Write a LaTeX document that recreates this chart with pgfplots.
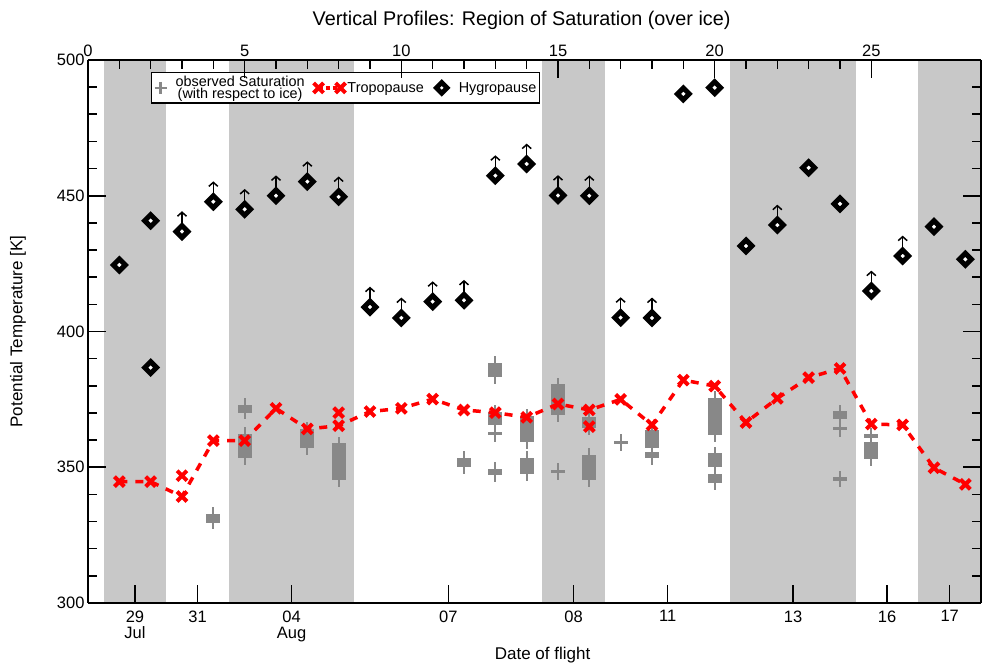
\documentclass[border=0pt]{standalone}
\usepackage{fontspec}
\setmainfont{Liberation Sans}
\usepackage{pgfplots}
\usepackage{pgfplotstable}
\pgfplotsset{compat=1.18}
\usetikzlibrary{arrows.meta}
\definecolor{bandgray}{RGB}{200,200,200}
\definecolor{satgray}{RGB}{136,136,136}
\pgfplotsset{
  troplegend/.style={legend image code/.code={\draw[##1, mark repeat=1] plot coordinates {(0pt,0pt) (22pt,0pt)};}},
  satlegend/.style={legend image code/.code={\draw[##1] plot coordinates {(8pt,0pt)}; \path[draw=none] (0pt,0pt) -- (21pt,0pt);}},
  hyglegend/.style={legend image code/.code={\path[draw=none] (0pt,0pt) -- (24pt,0pt); \draw[##1] plot coordinates {(9pt,0pt)};}},
}

% observed saturation ranges (x, lower, upper) in K
\pgfplotstableread{
x lo hi
4 329.6 332.8
5 353.5 362.3
5 370.1 372.9
7 357.0 364.0
8 345.4 358.8
12 350.0 353.5
13 383.1 388.3
13 365.5 370.5
13 361.9 363.1
13 347.1 349.4
14 359.4 368.8
14 347.6 353.4
15 369.3 380.5
15 347.8 349.0
16 345.3 354.5
16 364.5 368.6
17 358.6 359.8
18 357.0 363.8
18 353.5 355.7
20 361.9 375.4
20 350.1 355.1
20 344.1 347.5
24 367.7 370.6
24 363.6 364.8
24 345.1 346.3
25 360.7 362.1
25 352.9 359.4
}\sat

% tropopause (connected)
\pgfplotstableread{
x y
1 344.7
2 344.7
3 339.2
4 359.8
5 359.8
6 371.7
7 364.1
8 365.3
9 370.5
10 371.7
11 375.1
12 371.1
13 370.1
14 368.4
15 373.3
16 371.1
17 375.0
18 365.6
19 382.1
20 379.9
21 366.5
22 375.4
23 383.0
24 386.4
25 365.9
26 365.6
27 349.8
28 343.7
}\trop

% additional tropopause determinations
\pgfplotstableread{
x y
3 346.9
8 370.1
16 365.0
}\tropx

% hygropause
\pgfplotstableread{
x y
1 424.5
2 440.8
2 386.7
3 436.8
4 447.8
5 445.0
6 450.0
7 455.2
8 449.6
9 409.0
10 405.0
11 411.0
12 411.5
13 457.4
14 461.7
15 450.1
16 450.0
17 405.1
18 405.0
19 487.5
20 489.8
21 431.5
22 439.2
23 460.3
24 447.0
25 414.9
26 427.8
27 438.6
28 426.6
}\hyg

% hygropause values that are lower limits (arrow)
\pgfplotstableread{
x y
3 436.8
4 447.8
5 445.0
6 450.0
7 455.2
8 449.6
9 409.0
10 405.0
11 411.0
12 411.5
13 457.4
14 461.7
15 450.1
16 450.0
17 405.1
18 405.0
22 439.2
25 414.9
26 427.8
}\hygarrow

\begin{document}
\begin{tikzpicture}
\useasboundingbox (-88pt,-63pt) rectangle (905pt,603pt);
\begin{axis}[
  at={(0pt,0pt)}, anchor=south west,
  scale only axis, width=893pt, height=543pt,
  xmin=0, xmax=28.5, ymin=300, ymax=500,
  axis on top,
  axis x line*=bottom,
  axis line style={line width=1.6pt},
  every tick/.style={black, line width=1.6pt},
  tick align=inside,
  major tick length=18pt, minor tick length=9pt,
  xtick={1.5,3.5,6.5,11.5,15.5,18.5,22.5,25.5,27.5},
  xticklabels={{29\\Jul},31,{04\\Aug},07,08,11,13,16,17},
  ytick={300,350,...,500}, minor y tick num=4,
  /pgf/number format/assume math mode=true,
  tick label style={font=\fontsize{16.5}{16}\selectfont},
  xticklabel style={align=center, yshift=-4pt},
  every axis x label/.style={at={(axis description cs:0.509,-0.0958)}, anchor=center},
  every axis y label/.style={at={(axis description cs:-0.0784,0.5)}, rotate=90, anchor=center},
  label style={font=\fontsize{17}{17}\selectfont},
  xlabel={Date of flight},
  ylabel={Potential Temperature [K]},
  legend style={at={(rel axis cs:0.0705,0.978)}, anchor=north west,
    draw=black, line width=1.5pt, font=\fontsize{14.4}{12.5}\selectfont,
    inner sep=1pt, row sep=0pt,
    /tikz/every even column/.append style={column sep=7pt}},
  legend columns=3,
  legend cell align=left,
]
% day/night bands
\addplot[fill=bandgray, draw=none, forget plot] coordinates {(0.5,300)(0.5,500)(2.5,500)(2.5,300)} --cycle;
\addplot[fill=bandgray, draw=none, forget plot] coordinates {(4.5,300)(4.5,500)(8.5,500)(8.5,300)} --cycle;
\addplot[fill=bandgray, draw=none, forget plot] coordinates {(14.5,300)(14.5,500)(16.5,500)(16.5,300)} --cycle;
\addplot[fill=bandgray, draw=none, forget plot] coordinates {(20.5,300)(20.5,500)(24.5,500)(24.5,300)} --cycle;
\addplot[fill=bandgray, draw=none, forget plot] coordinates {(26.5,300)(26.5,500)(28.5,500)(28.5,300)} --cycle;

% observed saturation: thin vertical strokes
\addplot[draw=none, no markers, forget plot,
  error bars/.cd, y dir=both, y explicit, error mark=none,
  error bar style={draw=satgray, line width=2pt}]
  table[x=x, y expr={(\thisrow{lo}+\thisrow{hi})/2}, y error expr={(\thisrow{hi}-\thisrow{lo})/2+2.5}] {\sat};
% observed saturation: filled blocks
\addplot[draw=none, no markers, forget plot,
  error bars/.cd, y dir=both, y explicit, error mark=none,
  error bar style={draw=satgray, line width=14pt}]
  table[x=x, y expr={(\thisrow{lo}+\thisrow{hi})/2}, y error expr={(\thisrow{hi}-\thisrow{lo})/2}] {\sat};

% tropopause
\addplot[red, line width=3.5pt, dash pattern=on 8pt off 8pt, mark=x, mark size=7pt,
  mark options={solid, line width=4pt}, forget plot] table[x=x,y=y] {\trop};
\addplot[red, only marks, mark=x, mark size=7pt, mark options={solid, line width=4pt}, forget plot]
  table[x=x,y=y] {\tropx};

% hygropause arrows and diamonds
\addplot[black, line width=1.5pt, forget plot, -{Straight Barb[length=4pt,width=9pt,line width=1.5pt]},
  quiver={u=0, v=7.5}] table[x=x,y=y] {\hygarrow};
\addplot[only marks, mark=square*, mark size=4.2pt,
  mark options={rotate=45, fill=white, draw=black, line width=5pt}, forget plot]
  table[x=x,y=y] {\hyg};

% legend
\addlegendimage{only marks, mark=+, satgray, mark size=6pt, mark options={line width=2.5pt}, satlegend}
\addlegendentry[align=center]{observed Saturation\\(with respect to ice)}
\addlegendimage{red, line width=3.5pt, dash pattern=on 4pt off 3pt, mark=x, mark size=7pt,
  mark options={solid, line width=4pt}, troplegend}
\addlegendentry{Tropopause}
\addlegendimage{only marks, mark=square*, mark size=3.8pt,
  mark options={rotate=45, fill=white, draw=black, line width=4.8pt}, hyglegend}
\addlegendentry{Hygropause}
\end{axis}

\begin{axis}[
  at={(0pt,0pt)}, anchor=south west,
  scale only axis, width=893pt, height=543pt,
  xmin=0, xmax=28.5, ymin=300, ymax=500,
  axis x line*=top,
  hide y axis,
  axis line style={line width=1.6pt},
  every tick/.style={black, line width=1.6pt},
  tick align=inside,
  major tick length=18pt, minor tick length=9pt,
  xtick={0,5,...,25}, minor x tick num=4,
  /pgf/number format/assume math mode=true,
  tick label style={font=\fontsize{16.5}{16}\selectfont},
  title={Vertical Profiles: Region of Saturation (over ice)},
  every axis title/.style={at={(axis description cs:0.4855,1.0737)}, anchor=center, font=\fontsize{19.8}{19}\selectfont},
]
\end{axis}
\end{tikzpicture}
\end{document}
